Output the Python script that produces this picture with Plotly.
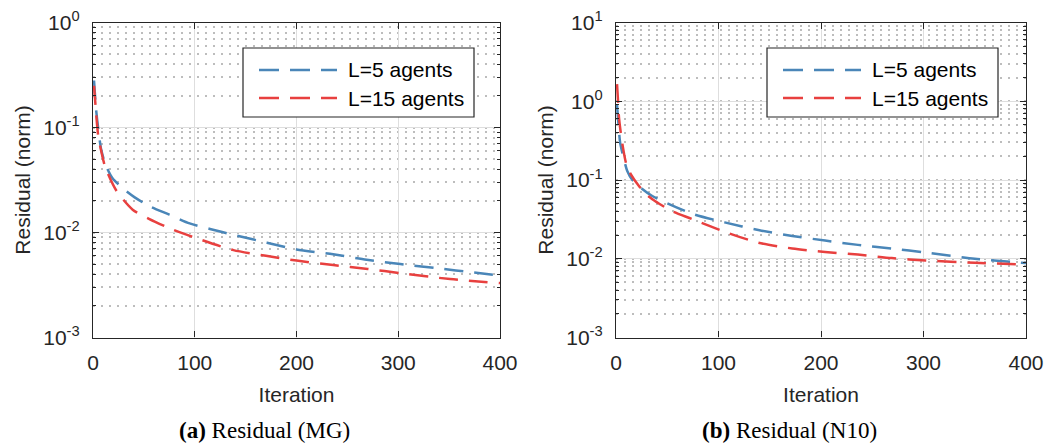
import plotly.graph_objects as go

# ---------------- data ----------------
# (a) Residual (MG)
mg_it_l5 = [1, 3, 5, 8, 12, 19, 30, 41, 56, 75, 95, 115, 138, 171, 200, 236, 269, 302, 344, 370, 400]
mg_res_l5 = [0.28, 0.15, 0.10, 0.062, 0.045, 0.033, 0.026, 0.0216, 0.0177, 0.0148, 0.0122, 0.0108,
             0.0095, 0.0080, 0.0069, 0.0062, 0.0055, 0.0050, 0.0045, 0.0042, 0.0039]
mg_it_l15 = [1, 3, 5, 8, 12, 23, 39, 55, 79, 105, 138, 170, 200, 236, 270, 302, 351, 400]
mg_res_l15 = [0.25, 0.14, 0.085, 0.060, 0.042, 0.025, 0.0165, 0.0135, 0.0106, 0.0086, 0.0068,
              0.0060, 0.0054, 0.0049, 0.0045, 0.0041, 0.0036, 0.0033]

# (b) Residual (N10)
n10_it_l5 = [1, 2, 4, 7, 11, 16, 25, 35, 48, 75, 106, 140, 172, 204, 236, 269, 302, 350, 400]
n10_res_l5 = [0.9, 0.6, 0.30, 0.20, 0.13, 0.10, 0.078, 0.063, 0.052, 0.037, 0.029, 0.023, 0.0195,
              0.017, 0.015, 0.0135, 0.012, 0.0100, 0.0088]
n10_it_l15 = [1, 2, 3, 6, 10, 15, 22, 30, 38, 55, 74, 106, 139, 172, 204, 236, 269, 302, 350, 400]
n10_res_l15 = [1.65, 1.0, 0.6, 0.30, 0.16, 0.115, 0.085, 0.065, 0.054, 0.040, 0.032, 0.022, 0.016,
               0.0135, 0.0122, 0.0113, 0.0102, 0.0095, 0.0089, 0.0084]

series_names = ["L=5 agents", "L=15 agents"]
x_ticks = [0, 100, 200, 300, 400]
y_ticks_a = [1e-3, 1e-2, 1e-1, 1e0]
y_text_a = ["10<sup>-3</sup>", "10<sup>-2</sup>", "10<sup>-1</sup>", "10<sup>0</sup>"]
y_ticks_b = [1e-3, 1e-2, 1e-1, 1e0, 1e1]
y_text_b = ["10<sup>-3</sup>", "10<sup>-2</sup>", "10<sup>-1</sup>", "10<sup>0</sup>", "10<sup>1</sup>"]
captions = ["<b>(a)</b> Residual (MG)", "<b>(b)</b> Residual (N10)"]

# ---------------- style ----------------
BLUE = "#4a86b8"
RED = "#e8403f"
DASH = "19px,11px"
AX = "#262626"
FONT = "Liberation Sans, Arial, sans-serif"
W, H = 1051, 445

fig = go.Figure()

def add(x, y, color, name, xa, ya):
    fig.add_trace(go.Scatter(x=x, y=y, mode="lines", name=name, xaxis=xa, yaxis=ya,
                             showlegend=False,
                             line=dict(color=color, width=2.5, dash=DASH, shape="spline", smoothing=0.7)))

add(mg_it_l5, mg_res_l5, BLUE, series_names[0], "x", "y")
add(mg_it_l15, mg_res_l15, RED, series_names[1], "x", "y")
add(n10_it_l5, n10_res_l5, BLUE, series_names[0], "x2", "y2")
add(n10_it_l15, n10_res_l15, RED, series_names[1], "x2", "y2")

def xaxis(domain, anchor):
    return dict(domain=domain, anchor=anchor, range=[0, 400], tickvals=x_ticks, automargin=False,
                showline=True, linecolor=AX, linewidth=1.3, mirror="ticks",
                ticks="inside", ticklen=6, tickcolor=AX,
                showgrid=True, gridcolor="#dedede", gridwidth=1, zeroline=False,
                tickfont=dict(size=21, color=AX, family=FONT), ticklabelstandoff=6,
                title=dict(text="Iteration", font=dict(size=21, color=AX, family=FONT), standoff=14))

def yaxis(domain, anchor, rng, tv, tt):
    return dict(domain=domain, anchor=anchor, type="log", range=rng, automargin=False,
                tickmode="array", tickvals=tv, ticktext=tt,
                showline=True, linecolor=AX, linewidth=1.3, mirror="ticks",
                ticks="inside", ticklen=6, tickcolor=AX,
                showgrid=True, gridcolor="#dedede", gridwidth=1, zeroline=False,
                minor=dict(dtick="D1", ticks="inside", ticklen=3, tickcolor=AX,
                           showgrid=True, gridcolor="#bdbdbd", griddash="2px,6px", gridwidth=1.5),
                tickfont=dict(size=21, color=AX, family=FONT), ticklabelstandoff=8,
                title=dict(text="Residual (norm)", font=dict(size=21, color=AX, family=FONT), standoff=6))

ydom = [1 - 337.5 / H, 1 - 22.5 / H]
fig.update_layout(
    width=W, height=H, margin=dict(l=0, r=0, t=0, b=0),
    paper_bgcolor="white", plot_bgcolor="white",
    xaxis=xaxis([93 / W, 500 / W], "y"),
    yaxis=yaxis(ydom, "x", [-3, 0], y_ticks_a, y_text_a),
    xaxis2=xaxis([616 / W, 1026 / W], "y2"),
    yaxis2=yaxis(ydom, "x2", [-3, 1], y_ticks_b, y_text_b),
)

# legends (box, sample lines, labels)
shapes = []
annotations = []
for off in [0, 524]:
    shapes.append(dict(type="rect", xref="paper", yref="paper",
                       x0=(243 + off) / W, x1=(474 + off) / W, y0=1 - 117 / H, y1=1 - 48 / H,
                       line=dict(color=AX, width=1.2), fillcolor="white", layer="above"))
    for row, (color, name) in enumerate(zip([BLUE, RED], series_names)):
        yy = 1 - (70 + 28 * row) / H
        shapes.append(dict(type="line", xref="paper", yref="paper",
                           x0=(259 + off) / W, x1=(337 + off) / W, y0=yy, y1=yy,
                           line=dict(color=color, width=2.5, dash="20px,11px"), layer="above"))
        annotations.append(dict(xref="paper", yref="paper", x=(346 + off) / W, y=yy,
                                xanchor="left", yanchor="middle", showarrow=False, text=name,
                                font=dict(size=21, color="black", family=FONT)))

for cx, cap in zip([264, 789], captions):
    annotations.append(dict(xref="paper", yref="paper", x=cx / W, y=1 - 430 / H,
                            xanchor="center", yanchor="middle", showarrow=False, text=cap,
                            font=dict(size=23, color="black", family="Liberation Serif, Times New Roman, serif")))

fig.update_layout(shapes=shapes, annotations=annotations)
fig.write_html("out.html", config={"displayModeBar": False},
               post_script="document.body.style.margin='0';document.body.style.overflow='hidden';")
